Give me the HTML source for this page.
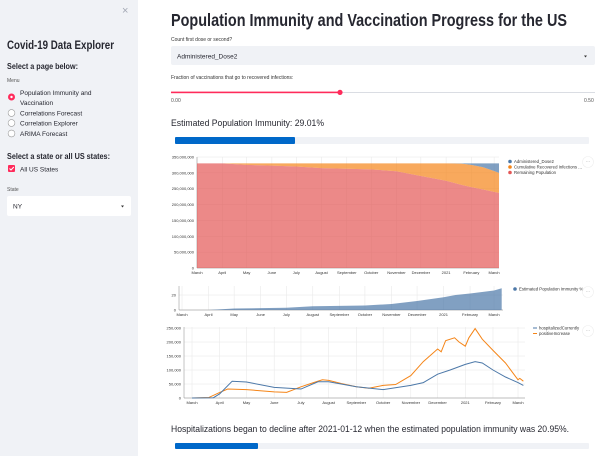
<!DOCTYPE html>
<html><head><meta charset="utf-8"><style>
html,body{margin:0;padding:0;width:600px;height:456px;overflow:hidden;background:#fff;font-family:"Liberation Sans",sans-serif}
svg text{font-family:"Liberation Sans",sans-serif}
</style></head><body>
<svg id="page" width="600" height="456" viewBox="0 0 600 456">
<rect x="0" y="0" width="138" height="456" fill="#f0f2f6"/>
<text x="122" y="14" font-size="11" fill="#a3a8b4">×</text>
<text x="7" y="49" font-size="12" font-weight="bold" fill="#262730" textLength="107" lengthAdjust="spacingAndGlyphs">Covid-19 Data Explorer</text>
<text x="7" y="69" font-size="8.5" font-weight="bold" fill="#262730" textLength="71" lengthAdjust="spacingAndGlyphs">Select a page below:</text>
<text x="7" y="82" font-size="5" fill="#555">Menu</text>
<g><circle cx="11.5" cy="97" r="3.5" fill="#ff2b5b"/><circle cx="11.5" cy="97" r="1.2" fill="#fff"/>
<text x="20" y="95" font-size="6.5" fill="#262730">Population Immunity and</text><text x="20" y="105" font-size="6.5" fill="#262730">Vaccination</text></g>
<g><circle cx="11.5" cy="113" r="3.4" fill="#fff" stroke="#999" stroke-width="0.6"/><text x="20" y="115.5" font-size="6.5" fill="#262730">Correlations Forecast</text></g>
<g><circle cx="11.5" cy="123" r="3.4" fill="#fff" stroke="#999" stroke-width="0.6"/><text x="20" y="125.5" font-size="6.5" fill="#262730">Correlation Explorer</text></g>
<g><circle cx="11.5" cy="133.5" r="3.4" fill="#fff" stroke="#999" stroke-width="0.6"/><text x="20" y="136" font-size="6.5" fill="#262730">ARIMA Forecast</text></g>
<text x="7" y="159" font-size="8.5" font-weight="bold" fill="#262730" textLength="103" lengthAdjust="spacingAndGlyphs">Select a state or all US states:</text>
<g><rect x="8" y="165" width="7" height="7" rx="1" fill="#ff2b5b"/><path d="M9.5 168.5 L11 170 L13.8 167" stroke="#fff" stroke-width="1" fill="none"/><text x="20" y="171.5" font-size="6.5" fill="#262730">All US States</text></g>
<text x="7" y="191" font-size="5" fill="#555">State</text>
<g><rect x="7" y="196" width="124" height="20" rx="2" fill="#fff"/><text x="13" y="208.5" font-size="6.5" fill="#262730">NY</text><path d="M121 205.5 L124 205.5 L122.5 207.5 Z" fill="#333"/></g>

<text x="171" y="26" font-size="17.5" font-weight="bold" fill="#262730" textLength="396" lengthAdjust="spacingAndGlyphs">Population Immunity and Vaccination Progress for the US</text>
<text x="171" y="41" font-size="5" fill="#333">Count first dose or second?</text>
<g><rect x="171" y="46" width="424" height="19" rx="2" fill="#f0f2f6"/><text x="177" y="58.5" font-size="6.5" fill="#262730">Administered_Dose2</text><path d="M584 55.5 L587 55.5 L585.5 57.5 Z" fill="#333"/></g>
<text x="171" y="79" font-size="5" fill="#333">Fraction of vaccinations that go to recovered infections:</text>
<g><rect x="171" y="92" width="424" height="1" fill="#dadde3"/><rect x="171" y="91.6" width="169" height="1.6" fill="#ff2b5b"/><circle cx="340" cy="92.4" r="2.6" fill="#ff2b5b"/></g>
<text x="171" y="102" font-size="5" font-family="Liberation Mono" fill="#555">0.00</text>
<text x="584" y="102" font-size="5" font-family="Liberation Mono" fill="#555">0.50</text>
<text x="171" y="126" font-size="9.5" fill="#262730" textLength="153" lengthAdjust="spacingAndGlyphs">Estimated Population Immunity: 29.01%</text>
<g><rect x="175" y="137" width="414" height="7" rx="1" fill="#f0f2f6"/><rect x="175" y="137" width="120" height="7" rx="1" fill="#0068c9"/></g>
<g id="c1"></g>
<g id="c2"></g>
<g id="c3"></g>
<text x="171" y="432" font-size="9.5" fill="#262730" textLength="398" lengthAdjust="spacingAndGlyphs">Hospitalizations began to decline after 2021-01-12 when the estimated population immunity was 20.95%.</text>
<g><rect x="175" y="443" width="414" height="6" rx="1" fill="#f0f2f6"/><rect x="175" y="443" width="83" height="6" rx="1" fill="#0068c9"/></g>
</svg>
<script>
// ---- data (dates as YYYY-MM-DD) ----
const popDates = ["2020-03-01","2020-04-01","2020-05-01","2020-06-01","2020-07-01","2020-08-01","2020-09-01","2020-10-01","2020-11-01","2020-12-01","2021-01-01","2021-01-20","2021-02-01","2021-02-15","2021-03-01","2021-03-07"];
const remainingPop = [330,330,325,323,320,315,313,311,305,290,275,262,255,248,240,237];
const dose2 = [0,0,0,0,0,0,0,0,0,0,0,1,5,12,24,30];
const totalPop = [330,330,330,330,330,330,330,330,330,330,330,330,330,330,330,330];
const immDates = ["2020-03-01","2020-04-01","2020-05-01","2020-06-01","2020-07-01","2020-08-01","2020-09-01","2020-10-01","2020-11-01","2020-12-01","2021-01-01","2021-01-15","2021-02-01","2021-03-01","2021-03-10"];
const immunity = [0,0,2,2.5,3,5,5.5,6,8,12,17,20,22,26,29];
const hospDates = ["2020-03-01","2020-03-25","2020-04-01","2020-04-15","2020-05-01","2020-06-01","2020-07-01","2020-07-20","2020-08-01","2020-09-01","2020-10-01","2020-11-01","2020-11-15","2020-12-01","2020-12-15","2021-01-01","2021-01-12","2021-01-20","2021-02-01","2021-02-15","2021-03-01","2021-03-07"];
const hospitalized = [0,1,15,60,57,38,32,58,58,40,30,45,55,85,100,120,130,125,100,75,55,45];
const posDates = ["2020-03-01","2020-03-20","2020-04-01","2020-04-10","2020-05-01","2020-06-01","2020-06-15","2020-07-01","2020-07-15","2020-07-25","2020-08-01","2020-08-15","2020-09-01","2020-09-15","2020-10-01","2020-10-15","2020-11-01","2020-11-15","2020-12-01","2020-12-05","2020-12-10","2020-12-20","2020-12-25","2021-01-01","2021-01-05","2021-01-12","2021-01-20","2021-02-01","2021-02-15","2021-03-01","2021-03-03","2021-03-07"];
const positiveIncrease = [0,2,20,32,30,22,20,40,55,65,63,52,40,35,45,48,80,130,175,165,205,215,200,185,215,248,210,170,125,65,70,60];
const monthTicks = ["2020-03-01","2020-04-01","2020-05-01","2020-06-01","2020-07-01","2020-08-01","2020-09-01","2020-10-01","2020-11-01","2020-12-01","2021-01-01","2021-02-01","2021-03-01"];
const monthLabels = ["March","April","May","June","July","August","September","October","November","December","2021","February","March"];
const popTicks = [0,50,100,150,200,250,300,350];
const popTickLabels = ["0","50,000,000","100,000,000","150,000,000","200,000,000","250,000,000","300,000,000","350,000,000"];
const immTicks = [0,20];
const hospTicks = [0,50,100,150,200,250];
const hospTickLabels = ["0","50,000","100,000","150,000","200,000","250,000"];

const NS="http://www.w3.org/2000/svg";
const base=Date.UTC(2020,2,1);
function day(s){const p=s.split("-");return (Date.UTC(+p[0],+p[1]-1,+p[2])-base)/864e5;}
function mk(parent,tag,attrs){const e=document.createElementNS(NS,tag);for(const k in attrs)e.setAttribute(k,attrs[k]);parent.appendChild(e);return e;}

function axes(g,xs,ys,x0,x1,y0,y1,yt,ytl,fs){
  monthTicks.forEach((m,i)=>{const x=xs(day(m));if(x<x0-1||x>x1+1)return;
    const l=mk(g,"line",{x1:x,x2:x,y1:y1,y2:y0,stroke:"#e6e6e6","stroke-width":0.5});
    
    
    const t=mk(g,"text",{x:x,y:y0+6,"font-size":fs,fill:"#333","text-anchor":"middle"});t.textContent=monthLabels[i];
    
    });
  yt.forEach((v,i)=>{const y=ys(v);
    const l=mk(g,"line",{x1:x0,x2:x1,y1:y,y2:y,stroke:"#e6e6e6","stroke-width":0.5});
    
    
    const t=mk(g,"text",{x:x0-3,y:y+1.5,"font-size":fs,fill:"#333","text-anchor":"end"});t.textContent=ytl[i];
    
    });
  const a=mk(g,"line",{x1:x0,x2:x1,y1:y0,y2:y0,stroke:"#888","stroke-width":0.5});
  
  
  const b=mk(g,"line",{x1:x0,x2:x0,y1:y0,y2:y1,stroke:"#888","stroke-width":0.5});
  
  
}
function area(g,xs,ys,dates,top,bot,color,name){
  let d="M";dates.forEach((s,i)=>{d+=xs(day(s))+","+ys(top[i])+" L";});
  for(let i=dates.length-1;i>=0;i--){d+=xs(day(dates[i]))+","+ys(bot[i])+(i?" L":"");}
  const p=mk(g,"path",{d:d+"Z",fill:color,opacity:0.7});
  
  
}
function line(g,xs,ys,dates,vals,color,name){
  const d="M"+dates.map((s,i)=>xs(day(s))+","+ys(vals[i])).join(" L");
  const p=mk(g,"path",{d:d,fill:"none",stroke:color,"stroke-width":1});
  
  
}
function legend(g,x,y,items){
  items.forEach((it,i)=>{const c=mk(g,"circle",{cx:x,cy:y+i*5.5,r:1.8,fill:it[1]});
    
    
    const t=mk(g,"text",{x:x+4,y:y+i*5.5+1.6,"font-size":4.3,fill:"#333"});t.textContent=it[0];
    
    });
}
function menu(g,x,y){const c=mk(g,"circle",{cx:x,cy:y,r:5.5,fill:"#fff",stroke:"#eee","stroke-width":0.6});
  
  
  const t=mk(g,"text",{x:x,y:y+1,"font-size":5,fill:"#aaa","text-anchor":"middle"});t.textContent="···";
  
  }

// chart 1
(function(){const g=document.getElementById("c1");
  const x0=197,x1=499,y0=268,y1=157;const xs=d=>x0+d*(x1-x0)/371;const ys=v=>y0-v*(y0-y1)/350;
  axes(g,xs,ys,x0,x1,y0,y1,popTicks,popTickLabels,4);
  const zero=remainingPop.map(()=>0);const recTop=totalPop.map((t,i)=>t-dose2[i]);
  area(g,xs,ys,popDates,remainingPop,zero,"#e45756","area-remaining-population");
  area(g,xs,ys,popDates,recTop,remainingPop,"#f58518","area-recovered-infections");
  area(g,xs,ys,popDates,totalPop,recTop,"#4c78a8","area-administered-dose2");
  legend(g,510,161.5,[["Administered_Dose2","#4c78a8"],["Cumulative Recovered Infections ...","#f58518"],["Remaining Population","#e45756"]]);
  menu(g,588,162);})();
// chart 2
(function(){const g=document.getElementById("c2");
  const x0=179,x1=503,y0=310,y1=286;const xs=d=>182+d*312/365;const ys=v=>y0-v*0.75;
  axes(g,xs,ys,x0,x1,y0,y1,immTicks,immTicks.map(String),4);
  area(g,xs,ys,immDates,immunity,immunity.map(()=>0),"#4c78a8","area-population-immunity");
  legend(g,515,289,[["Estimated Population Immunity %","#4c78a8"]]);
  menu(g,588,292);})();
// chart 3
(function(){const g=document.getElementById("c3");
  const x0=184,x1=525,y0=398,y1=327;const xs=d=>192+d*326/365;const ys=v=>y0-v*0.28;
  axes(g,xs,ys,x0,x1,y0,y1,hospTicks,hospTickLabels,4);
  line(g,xs,ys,posDates,positiveIncrease,"#f58518","line-positive-increase");
  line(g,xs,ys,hospDates,hospitalized,"#4c78a8","line-hospitalized-currently");
  [["hospitalizedCurrently","#4c78a8"],["positiveIncrease","#f58518"]].forEach((it,i)=>{
    const l=mk(g,"line",{x1:533,x2:537,y1:328+i*5.5,y2:328+i*5.5,stroke:it[1],"stroke-width":1});
    
    
    const t=mk(g,"text",{x:539,y:329.5+i*5.5,"font-size":4.3,fill:"#333"});t.textContent=it[0];
    
    });
  menu(g,588,331);})();
</script>
</body></html>
